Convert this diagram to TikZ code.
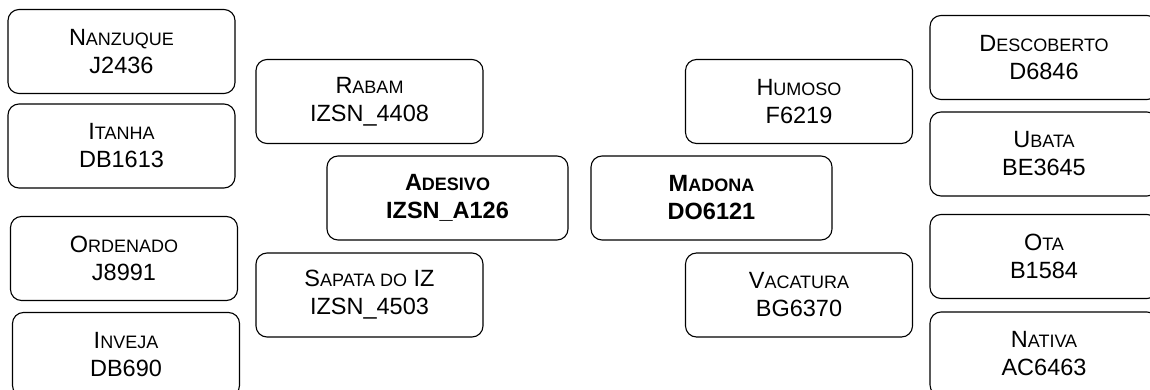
\documentclass[tikz,border=0pt]{standalone}
\usepackage{fontspec}
\setmainfont{Liberation Sans}
\newcommand\smc[1]{{\fontsize{18}{18}\selectfont #1}}
\begin{document}
\begin{tikzpicture}[x=1pt,y=-1pt,
  box/.style={draw, line width=1.1pt, rounded corners=11pt, align=center,
    inner sep=0pt, minimum width=227pt, minimum height=84pt,
    font=\fontsize{23.5}{28}\selectfont},
  mainbox/.style={box, minimum width=241pt,
    font=\bfseries\fontsize{23.5}{28}\selectfont}]
\useasboundingbox (0,0) rectangle (1150,390);
\fill[white] (0,0) rectangle (1150,390);
\clip (0,0) rectangle (1150,390);
% left column
\node[box] (nanz) at (121.5,51.5) {N\smc{ANZUQUE}\\J2436};
\node[box] (itan) at (121.5,146) {I\smc{TANHA}\\DB1613};
\node[box] (orde) at (124,258.5) {O\smc{RDENADO}\\J8991};
\node[box] (inve) at (126,354.5) {I\smc{NVEJA}\\DB690};
% middle left
\node[box] (raba) at (369.5,101.5) {R\smc{ABAM}\\IZSN\_4408};
\node[mainbox] (ades) at (447.5,198) {A\smc{DESIVO}\\IZSN\_A126};
\node[box] (sapa) at (369.5,295) {S\smc{APATA DO} IZ\\IZSN\_4503};
% middle right
\node[box] (humo) at (799,101.5) {H\smc{UMOSO}\\F6219};
\node[mainbox] (mado) at (711.5,198) {M\smc{ADONA}\\DO6121};
\node[box] (vaca) at (799,295) {V\smc{ACATURA}\\BG6370};
% right column
\node[box, minimum width=228pt] (desc) at (1044,57.5) {D\smc{ESCOBERTO}\\D6846};
\node[box, minimum width=228pt] (ubat) at (1044,154) {U\smc{BATA}\\BE3645};
\node[box, minimum width=228pt] (ota)  at (1044,256.5) {O\smc{TA}\\B1584};
\node[box, minimum width=228pt] (nati) at (1044,354) {N\smc{ATIVA}\\AC6463};
\end{tikzpicture}
\end{document}
